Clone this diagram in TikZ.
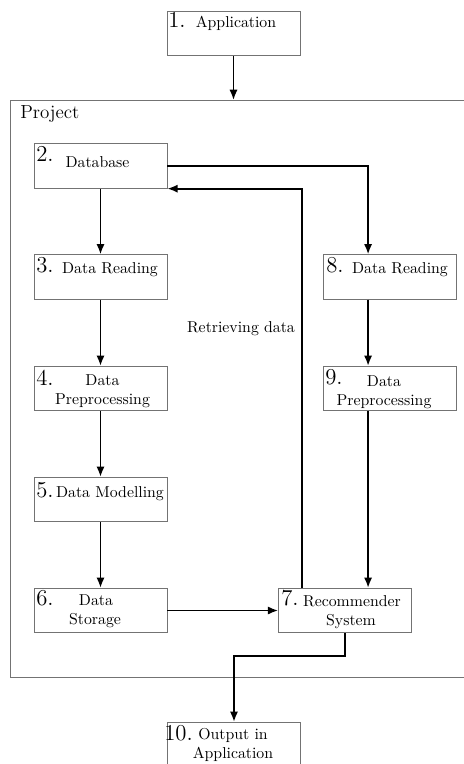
\documentclass[tikz,border=0pt]{standalone}
\usetikzlibrary{arrows.meta,calc}
\begin{document}
\begin{tikzpicture}[x=0.633pt,y=-0.633pt,
  box/.style={draw=black!55, line width=0.5pt, minimum width=84.2pt,
              minimum height=28.2pt, inner sep=0pt},
  num/.style={anchor=base west, inner sep=0pt, font=\Large},
  lbl/.style={anchor=base, inner sep=0pt},
  frame/.style={draw=black!55, line width=0.5pt},
  flow/.style={draw=black, line width=1.1pt, -{Latex[length=6.5pt,width=5.2pt]}},
]
\useasboundingbox (0,0) rectangle (464,764);

% project frame (open to the right)
\coordinate (fa) at (464,100);
\coordinate (fb) at (10,100);
\coordinate (fc) at (10,677);
\coordinate (fd) at (464,677);
\draw[frame] (fa) -- (fb) -- (fc) -- (fd);
\node[anchor=base west, inner sep=0pt, font=\large] (proj) at (20,119) {Project};

% boxes
\node[box] (b1)  at (233.5,33.5) {};
\node[box] (b2)  at (100.5,166) {};
\node[box] (b3)  at (100.5,277) {};
\node[box] (b4)  at (100.5,388.5) {};
\node[box] (b5)  at (100.5,499.5) {};
\node[box] (b6)  at (100.5,610.5) {};
\node[box] (b7)  at (345,610.5) {};
\node[box] (b8)  at (390,277) {};
\node[box] (b9)  at (390,388.5) {};
\node[box] (b10) at (234,744.5) {};

% step numbers
\node[num] (n1)  at (168,28)  {1.};
\node[num] (n2)  at (36,162)  {2.};
\node[num] (n3)  at (36,272)  {3.};
\node[num] (n4)  at (36,385)  {4.};
\node[num] (n5)  at (36,497)  {5.};
\node[num] (n6)  at (36,605)  {6.};
\node[num] (n7)  at (281,605) {7.};
\node[num] (n8)  at (326,272) {8.};
\node[num] (n9)  at (325,384) {9.};
\node[num] (n10) at (164,740) {10.};

% step texts
\node[lbl] (t1)  at (236,28)    {Application};
\node[lbl] (t2)  at (97.5,167)  {Database};
\node[lbl] (t3)  at (110,273)   {Data Reading};
\node[lbl] (t4a) at (102.5,385) {Data};
\node[lbl] (t4b) at (102.5,404) {Preprocessing};
\node[lbl] (t5)  at (110,497)   {Data Modelling};
\node[lbl] (t6a) at (96,605)    {Data};
\node[lbl] (t6b) at (95,624)    {Storage};
\node[lbl] (t7a) at (352,606)   {Recommender};
\node[lbl] (t7b) at (351,625)   {System};
\node[lbl] (t8)  at (400,273)   {Data Reading};
\node[lbl] (t9a) at (384,386)   {Data};
\node[lbl] (t9b) at (384,405)   {Preprocessing};
\node[lbl] (t10a) at (233,739)  {Output in};
\node[lbl] (t10b) at (233,758)  {Application};
\node[lbl] (rd)  at (241,332)   {Retrieving data};

% connection points on the right column
\coordinate (ftop) at (233.5,100);
\coordinate (c8n) at ($(b8.north west)+(45,0)$);
\coordinate (c8s) at ($(b8.south west)+(45,0)$);
\coordinate (c9n) at ($(b9.north west)+(45,0)$);
\coordinate (c9s) at ($(b9.south west)+(45,0)$);
\coordinate (c7r) at ($(b7.north west)+(24,0)$);

% connectors
\draw[flow] (b1.south) -- (ftop);
\draw[flow] (b2.south) -- (b3.north);
\draw[flow] (b3.south) -- (b4.north);
\draw[flow] (b4.south) -- (b5.north);
\draw[flow] (b5.south) -- (b6.north);
\draw[flow] (b6.east) -- (b7.west);
\draw[flow] (b2.east) -| (c8n);
\draw[flow] (c8s) -- (c9n);
\draw[flow] (c9s) -- (c9s |- b7.north);
\draw[flow] (c7r) |- (b2.south east);
\draw[flow] (b7.south) -- ++(0,23) -| (b10.north);
\end{tikzpicture}
\end{document}
